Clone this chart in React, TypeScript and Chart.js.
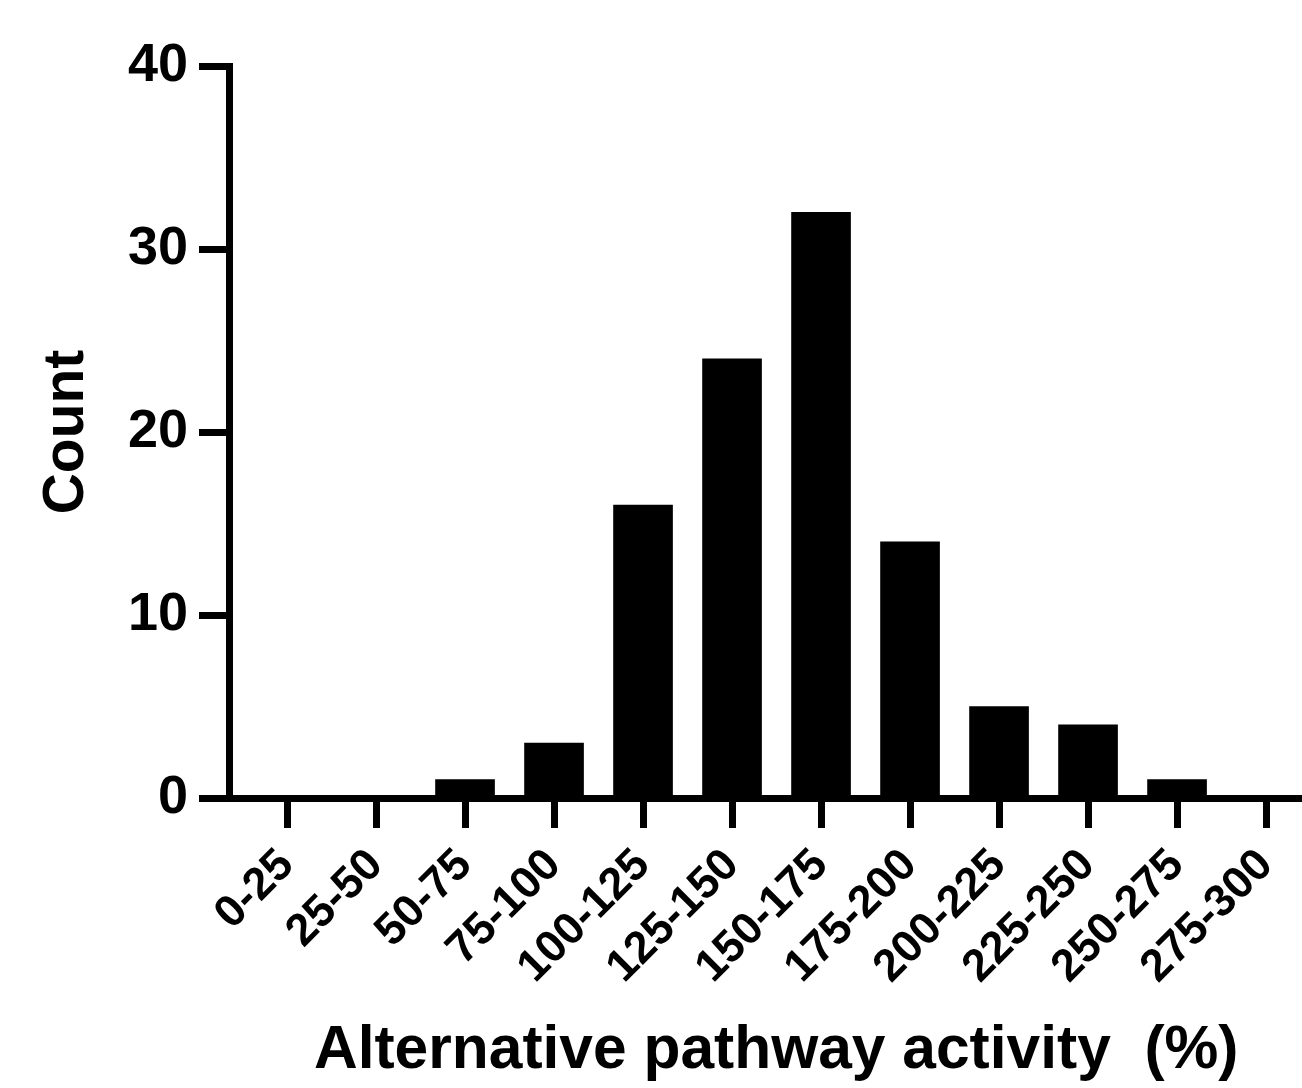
import React, { useEffect, useRef } from "react";
import { Chart, registerables } from "chart.js";

Chart.register(...registerables);

const categories = ["0-25", "25-50", "50-75", "75-100", "100-125", "125-150", "150-175", "175-200", "200-225", "225-250", "250-275", "275-300"];
const counts = [0, 0, 1, 3, 16, 24, 32, 14, 5, 4, 1, 0];
const yTicks = [0, 10, 20, 30, 40];
const xTitle = "Alternative pathway activity  (%)";
const yTitle = "Count";

const FONT = "'Liberation Sans', Arial, Helvetica, sans-serif";

const xTitlePlugin = {
  id: "xTitlePlugin",
  afterDraw(chart: any) {
    const ctx = chart.ctx;
    const area = chart.chartArea;
    ctx.save();
    ctx.fillStyle = "#000";
    ctx.font = `bold 60.5px ${FONT}`;
    ctx.textAlign = "center";
    ctx.textBaseline = "alphabetic";
    ctx.fillText(xTitle, area.left + (area.right - area.left) * 0.51, 1068);
    ctx.restore();
  },
};

export default function App() {
  const ref = useRef<HTMLCanvasElement | null>(null);
  useEffect(() => {
    if (!ref.current) return;
    const data = counts.map((v, i) => ({ x: i, y: v }));
    const chart = new Chart(ref.current, {
      type: "bar",
      data: {
        datasets: [
          {
            data,
            backgroundColor: "#000000",
            borderWidth: 0,
            barThickness: 59,
          } as any,
        ],
      },
      plugins: [xTitlePlugin],
      options: {
        responsive: false,
        animation: false,
        devicePixelRatio: 1,
        layout: { padding: { top: 66, right: 0, left: 0, bottom: 0 } },
        plugins: { legend: { display: false }, tooltip: { enabled: false } },
        scales: {
          x: {
            type: "linear",
            min: -0.652,
            max: 11.404,
            offset: false,
            afterFit: (s: any) => {
              s.height = 290;
              s.paddingLeft = 0;
              s.paddingRight = 0;
            },
            afterBuildTicks: (s: any) => {
              s.ticks = categories.map((_, i) => ({ value: i }));
            },
            border: { display: true, color: "#000", width: 7 },
            grid: {
              drawOnChartArea: false,
              drawTicks: true,
              tickLength: 30,
              tickWidth: 7,
              tickColor: "#000",
              offset: false,
            },
            ticks: {
              autoSkip: false,
              minRotation: 45,
              maxRotation: 45,
              padding: 11,
              color: "#000",
              font: { family: FONT, size: 45, weight: "bold" },
              callback: (v: any) => categories[Math.round(Number(v))] ?? "",
            },
            title: { display: false },
          },
          y: {
            min: 0,
            max: 40,
            afterFit: (s: any) => {
              s.width = 229;
              s.paddingTop = 0;
              s.paddingBottom = 0;
            },
            afterBuildTicks: (s: any) => {
              s.ticks = yTicks.map((v) => ({ value: v }));
            },
            border: { display: true, color: "#000", width: 7 },
            grid: {
              drawOnChartArea: false,
              drawTicks: true,
              tickLength: 30,
              tickWidth: 7,
              tickColor: "#000",
            },
            ticks: {
              padding: 11,
              color: "#000",
              font: { family: FONT, size: 54, weight: "bold" },
            },
            title: {
              display: true,
              text: yTitle,
              color: "#000",
              font: { family: FONT, size: 57, weight: "bold", lineHeight: 1 },
              padding: { top: 39, bottom: 0 },
            },
          },
        },
      },
    });
    return () => chart.destroy();
  }, []);
  return (
    <div style={{ position: "fixed", left: 0, top: 0, width: 1302, height: 1088, background: "#fff" }}>
      <canvas ref={ref} width={1302} height={1088} style={{ display: "block" }} />
    </div>
  );
}
